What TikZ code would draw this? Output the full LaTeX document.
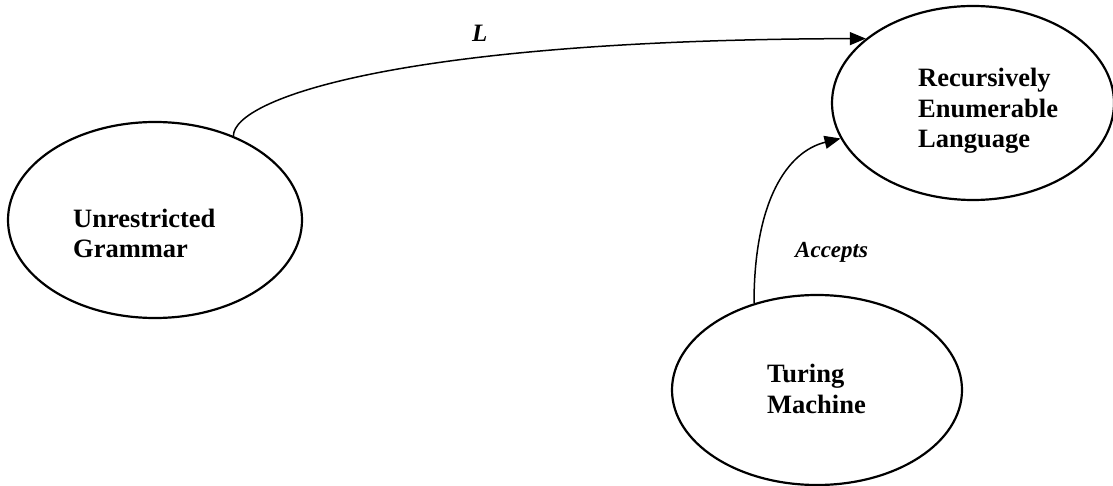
\documentclass[tikz,border=0pt]{standalone}
\usepackage{fontspec}
\setmainfont{Liberation Serif}
\usetikzlibrary{shapes.geometric,arrows.meta}
\tikzset{
  ell/.style={draw, ellipse, line width=2.2pt, inner sep=0pt},
  txt/.style={font=\fontsize{26.5}{30.5}\selectfont\bfseries, align=left, inner sep=0pt, anchor=base west},
  lab/.style={font=\fontsize{#1}{#1}\selectfont\bfseries\itshape, inner sep=0pt, anchor=base west},
  conn/.style={line width=1.5pt, -{Triangle[length=16pt,width=13pt]}}
}
\begin{document}
\begin{tikzpicture}[x=1pt,y=-1pt]
\useasboundingbox (0,0) rectangle (1113,486);
\node[ell, minimum width=294pt, minimum height=196pt] (ug) at (155,220) {};
\node[ell, minimum width=282pt, minimum height=194pt] (re) at (973,103) {};
\node[ell, minimum width=290pt, minimum height=190pt] (tm) at (817,390) {};
\node[txt] (ugt) at (73,258) {Unrestricted\\Grammar};
\node[txt] (ret) at (918,148) {Recursively\\Enumerable\\Language};
\node[txt] (tmt) at (767,413) {Turing\\Machine};
\draw[conn] (ug.47) .. controls +(0,-37) and +(-467,1) .. (re.149);
\draw[conn] (tm.126) .. controls +(0,-103) and +(-53,13) .. (re.195);
\node[lab=25] (l) at (472,42) {L};
\node[lab=23] (acc) at (795,258) {Accepts};
\end{tikzpicture}
\end{document}
